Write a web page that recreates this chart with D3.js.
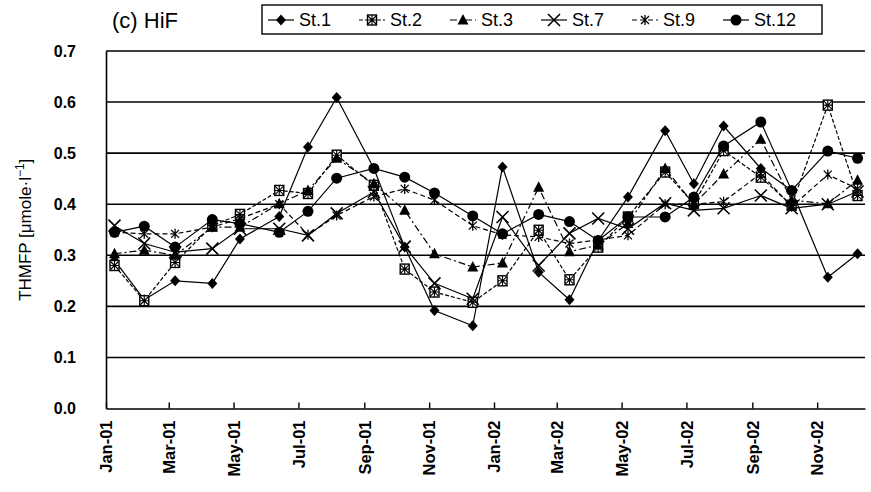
<!DOCTYPE html>
<html>
<head>
<meta charset="utf-8">
<script src="https://cdn.jsdelivr.net/npm/d3@7"></script>
<style>
  body { margin: 0; background: #fff; }
  svg { display: block; font-family: "Liberation Sans", Arial, sans-serif; }
</style>
</head>
<body>
<div id="chart"></div>
<script>
// sampling dates (one per month)
const dates = ["2001-01-09","2001-02-06","2001-03-07","2001-04-11","2001-05-07","2001-06-13",
  "2001-07-10","2001-08-06","2001-09-10","2001-10-09","2001-11-06","2001-12-12",
  "2002-01-09","2002-02-12","2002-03-13","2002-04-09","2002-05-07","2002-06-11",
  "2002-07-08","2002-08-05","2002-09-09","2002-10-08","2002-11-11","2002-12-09"];

const st1 = [0.29,0.213,0.25,0.245,0.332,0.376,0.512,0.609,0.47,0.316,0.192,0.162,
  0.473,0.267,0.213,0.329,0.414,0.544,0.44,0.553,0.47,0.427,0.257,0.303];
const st2 = [0.28,0.211,0.286,0.358,0.38,0.427,0.421,0.496,0.437,0.273,0.228,0.208,
  0.25,0.349,0.252,0.316,0.375,0.463,0.401,0.505,0.453,0.398,0.594,0.417];
const st3 = [0.303,0.31,0.30,0.355,0.355,0.401,0.427,0.49,0.44,0.388,0.303,0.277,
  0.285,0.433,0.307,0.32,0.362,0.47,0.40,0.459,0.527,0.408,0.401,0.447];
const st7 = [0.358,0.323,0.306,0.313,0.352,0.352,0.339,0.382,0.424,0.317,0.245,0.215,
  0.375,0.28,0.343,0.372,0.352,0.402,0.388,0.392,0.417,0.392,0.40,0.425];
const st9 = [0.345,0.342,0.342,0.355,0.372,0.40,0.34,0.378,0.415,0.43,0.408,0.358,
  0.34,0.336,0.323,0.33,0.339,0.40,0.40,0.405,0.46,0.395,0.458,0.43];
const st12 = [0.345,0.357,0.316,0.37,0.362,0.345,0.386,0.451,0.47,0.453,0.422,0.377,
  0.342,0.38,0.366,0.329,0.375,0.375,0.414,0.514,0.561,0.427,0.504,0.49];

const seriesNames = ["St.1","St.2","St.3","St.7","St.9","St.12"];
const yTicks = [0, 0.1, 0.2, 0.3, 0.4, 0.5, 0.6, 0.7];
const xTickLabels = ["Jan-01","Mar-01","May-01","Jul-01","Sep-01","Nov-01",
  "Jan-02","Mar-02","May-02","Jul-02","Sep-02","Nov-02"];

const width = 871, height = 492;
const margin = {top: 51, right: 6, bottom: 84, left: 106};
const parse = d3.timeParse("%Y-%m-%d");
const fmt = d3.timeFormat("%b-%y");

const svg = d3.select("#chart").append("svg")
  .attr("width", width).attr("height", height);

const x = d3.scaleTime()
  .domain([new Date(2001, 0, 1), new Date(2002, 11, 16)])
  .range([margin.left, width - margin.right]);
const y = d3.scaleLinear()
  .domain([0, 0.7])
  .range([height - margin.bottom + 0.5, margin.top]);

// gridlines
svg.append("g")
  .selectAll("line")
  .data(yTicks.slice(1))
  .join("line")
    .attr("x1", margin.left).attr("x2", width - margin.right)
    .attr("y1", d => y(d)).attr("y2", d => y(d))
    .attr("stroke", "#000").attr("stroke-width", 1.6);

// x axis, ticks every two months pointing inward
const xTickDates = xTickLabels.map(d => d3.timeParse("%b-%y")(d));
const xAxis = svg.append("g")
  .attr("transform", `translate(0,${y(0)})`)
  .call(d3.axisBottom(x).tickValues(xTickDates).tickSizeInner(-6).tickSizeOuter(0).tickFormat(fmt));
xAxis.select(".domain").attr("stroke-width", 1.6);
xAxis.selectAll(".tick line").attr("stroke-width", 1.4);
xAxis.selectAll("text")
  .attr("transform", "rotate(-90)")
  .attr("text-anchor", "end")
  .attr("x", -12).attr("y", 0).attr("dy", "0.35em")
  .style("font-size", "16.5px").style("font-weight", "bold");

// y axis
const yAxis = svg.append("g")
  .attr("transform", `translate(${margin.left},0)`)
  .call(d3.axisLeft(y).tickValues(yTicks).tickSize(0).tickFormat(d3.format(".1f")));
yAxis.select(".domain").attr("stroke-width", 1.6);
yAxis.selectAll("text")
  .attr("x", -30)
  .style("font-size", "16px").style("font-weight", "bold");

// y label
svg.append("text")
  .attr("transform", `translate(31,${(y(0) + y(0.7)) / 2}) rotate(-90)`)
  .attr("text-anchor", "middle")
  .style("font-size", "17px")
  .html('THMFP [<tspan>μ</tspan>mole·l<tspan dy="-7" font-size="12px">−1</tspan><tspan dy="7">]</tspan>');

// marker drawers
function drawMarker(g, kind) {
  if (kind === "diamond") {
    g.append("path").attr("d", "M0,-5.5L5,0L0,5.5L-5,0Z").attr("fill", "#000");
  } else if (kind === "hatch") {
    g.append("rect").attr("x", -4.5).attr("y", -5).attr("width", 9).attr("height", 10)
      .attr("fill", "#fff").attr("stroke", "#000").attr("stroke-width", 1.4);
    g.append("path").attr("d", "M-4,-4L4,4M4,-4L-4,4M0,-5V5M-4.5,0H4.5")
      .attr("stroke", "#000").attr("stroke-width", 1.1).attr("fill", "none");
  } else if (kind === "triangle") {
    g.append("path").attr("d", "M0,-6L5.5,4.5L-5.5,4.5Z").attr("fill", "#000");
  } else if (kind === "times") {
    g.append("path").attr("d", "M-6,-6L6,6M6,-6L-6,6")
      .attr("stroke", "#000").attr("stroke-width", 1.6).attr("fill", "none");
  } else if (kind === "star") {
    g.append("path").attr("d", "M-4,-4L4,4M4,-4L-4,4M0,-5V5")
      .attr("stroke", "#000").attr("stroke-width", 1.3).attr("fill", "none");
  } else if (kind === "circle") {
    g.append("circle").attr("r", 5.5).attr("fill", "#000");
  }
}

const series = [
  {name: "St.1", values: st1, marker: "diamond", dash: null},
  {name: "St.2", values: st2, marker: "hatch", dash: "4,2"},
  {name: "St.3", values: st3, marker: "triangle", dash: "7,3,2,3"},
  {name: "St.7", values: st7, marker: "times", dash: null},
  {name: "St.9", values: st9, marker: "star", dash: "5,3"},
  {name: "St.12", values: st12, marker: "circle", dash: null}
];

const line = d3.line()
  .x(d => x(d[0]))
  .y(d => y(d[1]));

series.forEach(s => {
  const pts = dates.map((d, i) => [parse(d), s.values[i]]);
  svg.append("path")
    .datum(pts)
    .attr("d", line)
    .attr("fill", "none")
    .attr("stroke", "#000")
    .attr("stroke-width", 1.2)
    .attr("stroke-dasharray", s.dash);
  svg.append("g")
    .selectAll("g")
    .data(pts)
    .join("g")
      .attr("transform", d => `translate(${x(d[0])},${y(d[1])})`)
      .each(function() { drawMarker(d3.select(this), s.marker); });
});

// title
svg.append("text")
  .attr("x", 112).attr("y", 28)
  .style("font-size", "22px")
  .text("(c) HiF");

// legend
const legend = svg.append("g");
legend.append("rect")
  .attr("x", 262).attr("y", 5).attr("width", 560).attr("height", 29)
  .attr("fill", "#fff").attr("stroke", "#000").attr("stroke-width", 1.4);
const step = 91;
series.forEach((s, i) => {
  const lx = 268 + i * step;
  const g = legend.append("g");
  g.append("line")
    .attr("x1", lx).attr("x2", lx + 26).attr("y1", 20).attr("y2", 20)
    .attr("stroke", "#000").attr("stroke-width", 1.2)
    .attr("stroke-dasharray", s.dash);
  const m = g.append("g").attr("transform", `translate(${lx + 13},20)`);
  drawMarker(m, s.marker);
  g.append("text")
    .attr("x", lx + 31).attr("y", 26)
    .style("font-size", "18px")
    .text(s.name);
});
</script>
</body>
</html>
